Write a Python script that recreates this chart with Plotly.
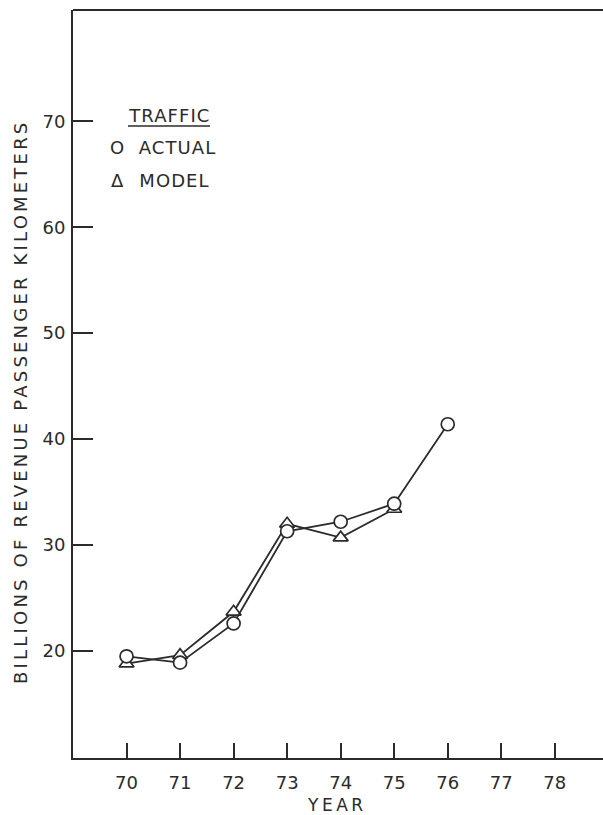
import plotly.graph_objects as go

# ---- data ----
years = [70, 71, 72, 73, 74, 75, 76]
actual_traffic = [19.5, 18.9, 22.6, 31.3, 32.2, 33.9, 41.4]
model_years = [70, 71, 72, 73, 74, 75]
model_traffic = [18.8, 19.6, 23.7, 32.0, 30.7, 33.4]
x_tick_vals = [70, 71, 72, 73, 74, 75, 76, 77, 78]
x_tick_text = ["70", "71", "72", "73", "74", "75", "76", "77", "78"]
y_tick_vals = [20, 30, 40, 50, 60, 70]
y_tick_text = ["20", "30", "40", "50", "60", "70"]

INK = "#2b2b2b"
FONT = "DejaVu Sans"
W, H = 603, 815
L, R, T, B = 73, 0, 10, 57
PW, PH = W - L - R, H - T - B


def px(x):
    return (x - L) / PW


def py(y):
    return (H - B - y) / PH


fig = go.Figure()
fig.add_trace(go.Scatter(
    x=model_years, y=model_traffic, mode="lines+markers", name="MODEL",
    line=dict(color=INK, width=1.8),
    marker=dict(symbol="triangle-up", size=13, color="white",
                line=dict(color=INK, width=1.7)),
    showlegend=False))
fig.add_trace(go.Scatter(
    x=years, y=actual_traffic, mode="lines+markers", name="ACTUAL",
    line=dict(color=INK, width=1.8),
    marker=dict(symbol="circle", size=13, color="white",
                line=dict(color=INK, width=1.7)),
    showlegend=False))

fig.update_xaxes(
    range=[69.0, 78.9], showgrid=False, zeroline=False,
    showline=True, linecolor=INK, linewidth=2,
    ticks="inside", ticklen=15, tickwidth=1.7, tickcolor=INK,
    tickvals=x_tick_vals, ticktext=x_tick_text,
    tickfont=dict(family=FONT, size=18, color=INK),
    ticklabelstandoff=7)
fig.update_yaxes(
    range=[9.9, 80.5], showgrid=False, zeroline=False,
    showline=True, linecolor=INK, linewidth=2,
    ticks="inside", ticklen=20, tickwidth=1.7, tickcolor=INK,
    tickvals=y_tick_vals, ticktext=y_tick_text,
    tickfont=dict(family=FONT, size=18, color=INK),
    ticklabelstandoff=2)

# top frame line (no right border visible in the reference)
fig.add_shape(type="line", xref="paper", yref="paper", x0=0, x1=1, y0=1, y1=1,
              line=dict(color=INK, width=2))
# legend title underline
fig.add_shape(type="line", xref="paper", yref="paper",
              x0=px(128), x1=px(210), y0=py(126), y1=py(126),
              line=dict(color=INK, width=1.5))

def ann(text, x, y, xanchor="center", size=18, angle=0):
    fig.add_annotation(text=text, xref="paper", yref="paper", x=px(x), y=py(y),
                       xanchor=xanchor, yanchor="middle", showarrow=False,
                       textangle=angle,
                       font=dict(family=FONT, size=size, color=INK))

ann("BILLIONS OF REVENUE PASSENGER KILOMETERS", 20, 402, angle=-90)
ann("YEAR", 337, 805, size=17)
ann("TRAFFIC", 169, 115)
ann("O", 116.5, 148)
ann("ACTUAL", 140, 148, xanchor="left")
ann("Δ", 117, 180)
ann("MODEL", 140, 180, xanchor="left")

fig.update_layout(
    width=W, height=H, margin=dict(l=L, r=R, t=T, b=B, pad=0),
    paper_bgcolor="white", plot_bgcolor="white",
    font=dict(family=FONT, color=INK), showlegend=False)

post = """
document.body.style.margin = '0';
document.body.style.padding = '0';
var gd = document.getElementById('{plot_id}');
function fixSpacing(){
  gd.querySelectorAll('text.annotation-text').forEach(function(t){
    var s = t.textContent, ls = null;
    if (s.indexOf('BILLIONS') === 0) ls = '3.2px';
    else if (s === 'YEAR') ls = '3.5px';
    else if (s === 'TRAFFIC' || s === 'ACTUAL' || s === 'MODEL') ls = '1.1px';
    if (ls) t.style.letterSpacing = ls;
  });
}
fixSpacing();
gd.on('plotly_afterplot', fixSpacing);
"""
fig.write_html("out.html", post_script=post, config={"displayModeBar": False})
